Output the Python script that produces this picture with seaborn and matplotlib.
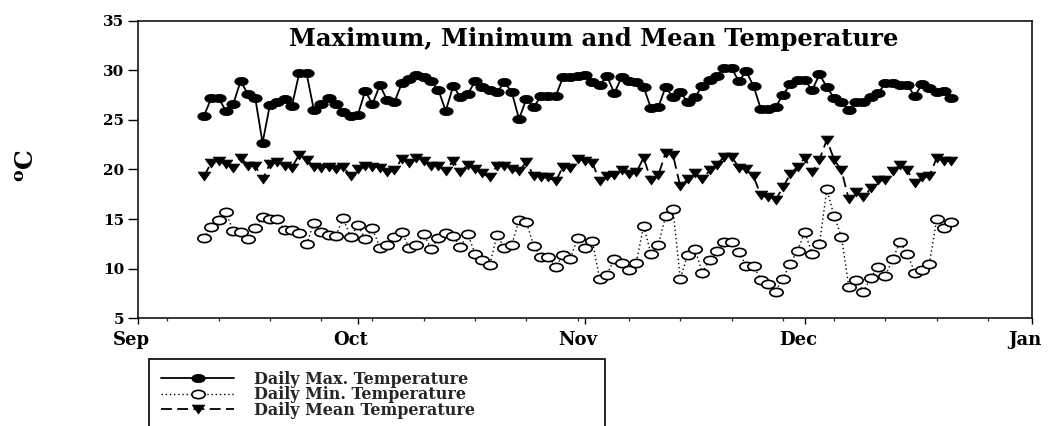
import numpy as np
import pandas as pd
import matplotlib
matplotlib.use("Agg")
import matplotlib.pyplot as plt
import matplotlib.dates as mdates
from matplotlib.path import Path
from matplotlib.ticker import FixedLocator
from matplotlib.transforms import ScaledTranslation, Affine2D
import seaborn as sns

# ---------------- data ----------------
start_date = "2003-09-10"
month_labels = ["Sep", "Oct", "Nov", "Dec", "Jan"]
y_ticks = [5, 10, 15, 20, 25, 30, 35]

t_max = [25.4, 27.2, 27.2, 25.9, 26.6, 28.9, 27.6, 27.2, 22.7, 26.5,
         26.8, 27.1, 26.4, 29.7, 29.7, 26.0, 26.6, 27.2, 26.6, 25.8,
         25.4, 25.5, 27.9, 26.6, 28.5, 27.0, 26.8, 28.7, 29.1, 29.5,
         29.3, 28.9, 28.0, 25.9, 28.4, 27.3, 27.6, 28.9, 28.3, 28.0,
         27.8, 28.8, 27.8, 25.1, 27.1, 26.3, 27.4, 27.4, 27.4, 29.3,
         29.3, 29.4, 29.5, 28.8, 28.5, 29.4, 27.7, 29.3, 28.9, 28.8,
         28.3, 26.2, 26.3, 28.3, 27.3, 27.8, 26.8, 27.3, 28.4, 29.0,
         29.4, 30.2, 30.2, 28.9, 29.9, 28.4, 26.1, 26.1, 26.3, 27.5,
         28.6, 29.0, 29.0, 28.0, 29.6, 28.3, 27.2, 26.8, 26.0, 26.8,
         26.8, 27.3, 27.7, 28.7, 28.7, 28.5, 28.5, 27.4, 28.6, 28.2,
         27.8, 27.9, 27.2]

t_min = [13.1, 14.2, 14.9, 15.7, 13.8, 13.7, 13.0, 14.1, 15.2, 15.0,
         15.0, 13.9, 13.9, 13.6, 12.5, 14.6, 13.7, 13.4, 13.3, 15.1,
         13.2, 14.4, 13.0, 14.1, 12.1, 12.4, 13.2, 13.7, 12.1, 12.4,
         13.5, 12.0, 13.1, 13.6, 13.3, 12.2, 13.5, 11.5, 10.9, 10.4,
         13.4, 12.1, 12.4, 14.9, 14.7, 12.3, 11.2, 11.2, 10.2, 11.4,
         11.0, 13.1, 12.1, 12.8, 9.0, 9.4, 11.0, 10.6, 9.9, 10.6,
         14.3, 11.5, 12.4, 15.3, 16.0, 9.0, 11.4, 12.0, 9.6, 10.9,
         11.8, 12.7, 12.7, 11.7, 10.3, 10.3, 8.9, 8.5, 7.7, 9.0,
         10.5, 11.8, 13.7, 11.5, 12.5, 18.0, 15.3, 13.2, 8.2, 8.9,
         7.7, 9.1, 10.2, 9.3, 11.0, 12.7, 11.5, 9.6, 9.9, 10.5,
         15.0, 14.1, 14.7]

t_mean = [19.3, 20.7, 20.9, 20.6, 20.2, 21.2, 20.4, 20.4, 19.0, 20.6,
          20.8, 20.4, 20.2, 21.5, 21.0, 20.3, 20.2, 20.3, 20.1, 20.3,
          19.3, 20.0, 20.4, 20.3, 20.2, 19.7, 19.9, 21.1, 20.7, 21.2,
          20.9, 20.4, 20.4, 19.8, 20.9, 19.7, 20.5, 20.1, 19.6, 19.2,
          20.4, 20.4, 20.0, 19.8, 20.8, 19.3, 19.2, 19.2, 18.8, 20.3,
          20.2, 21.1, 20.9, 20.7, 18.8, 19.3, 19.4, 19.9, 19.5, 19.7,
          21.2, 18.9, 19.4, 21.7, 21.5, 18.3, 19.0, 19.6, 19.0, 19.9,
          20.5, 21.3, 21.3, 20.2, 20.0, 19.3, 17.4, 17.2, 16.9, 18.2,
          19.5, 20.3, 21.2, 19.7, 21.0, 23.0, 21.0, 19.9, 17.0, 17.7,
          17.2, 18.1, 18.9, 18.9, 19.8, 20.5, 19.9, 18.6, 19.2, 19.3,
          21.2, 20.9, 20.9]

series_labels = ["Daily Max. Temperature", "Daily Min. Temperature",
                 "Daily Mean Temperature"]
title_text = "Maximum, Minimum and Mean Temperature"

dates = pd.date_range(start_date, periods=len(t_max), freq="D")

# ---------------- style ----------------
sns.set_style("ticks")
plt.rcParams["font.family"] = ["DejaVu Serif"]
plt.rcParams["font.weight"] = "bold"
plt.rcParams["mathtext.fontset"] = "dejavuserif"

# elliptical and wide triangle markers (image looks horizontally stretched)
ellipse = Path.unit_circle().transformed(Affine2D().scale(1.0, 0.62))
tri_down = Path([(-6, 4.2), (6, 4.2), (0, -4.2), (-6, 4.2)],
                [Path.MOVETO, Path.LINETO, Path.LINETO, Path.CLOSEPOLY])

W, H = 1051, 426
fig = plt.figure(figsize=(W / 100, H / 100), dpi=100)
fig.patch.set_facecolor("white")
left, right, top, bottom = 138, 1032, 20.7, 318.3
ax = fig.add_axes([left / W, 1 - bottom / H, (right - left) / W, (bottom - top) / H])

sns.lineplot(x=dates, y=t_max, ax=ax, color="black", lw=1.3, linestyle="-",
             marker=ellipse, markersize=9.6, markerfacecolor="black",
             markeredgecolor="black", markeredgewidth=0.6, label=series_labels[0])
sns.lineplot(x=dates, y=t_min, ax=ax, color="black", lw=1.0, linestyle=(0, (1, 2)),
             marker=ellipse, markersize=9.6, markerfacecolor="white",
             markeredgecolor="black", markeredgewidth=1.2, label=series_labels[1])
sns.lineplot(x=dates, y=t_mean, ax=ax, color="black", lw=1.3, linestyle=(0, (6, 3)),
             marker=tri_down, markersize=9.0, markerfacecolor="black",
             markeredgecolor="black", markeredgewidth=0.6, label=series_labels[2])

# ---------------- axes ----------------
ax.set_xlim(pd.Timestamp("2003-09-01"), pd.Timestamp("2004-01-01"))
ax.set_ylim(5, 35)
ax.set_yticks(y_ticks)
ax.set_yticklabels([str(v) for v in y_ticks])
month_starts = pd.to_datetime(["2003-09-01", "2003-10-01", "2003-11-01",
                               "2003-12-01", "2004-01-01"])
ax.set_xticks(month_starts)
ax.set_xticklabels(month_labels)
weekly = pd.date_range("2003-09-05", "2003-12-31", freq="7D")
ax.xaxis.set_minor_locator(FixedLocator(mdates.date2num(weekly)))
ax.set_xlabel("")
ax.set_ylabel("")

for s in ax.spines.values():
    s.set_visible(True)
    s.set_linewidth(1.1)
    s.set_color("black")

ax.tick_params(axis="y", which="major", direction="out", length=7, width=1.0,
               labelsize=11, pad=3, colors="black")
ax.tick_params(axis="x", which="major", direction="out", length=4.5, width=1.0,
               labelsize=13, pad=5, colors="black")
ax.tick_params(axis="x", which="minor", direction="out", length=2.5, width=0.9)
for lab in ax.get_xticklabels() + ax.get_yticklabels():
    lab.set_fontweight("bold")
for lab in ax.get_xticklabels():
    lab.set_transform(lab.get_transform() + ScaledTranslation(-7 / 100, 0, fig.dpi_scale_trans))

ax.grid(False)

ax.text((594 - left) / (right - left), (bottom - 39) / (bottom - top), title_text,
        transform=ax.transAxes, ha="center", va="center", fontsize=17.5,
        fontweight="bold", color="black")

fig.text(27 / W, 1 - 165 / H, r"$^{\mathbf{o}}$C", rotation=90, fontsize=18,
         fontweight="bold", ha="center", va="center", color="black")

# ---------------- legend ----------------
handles, labels = ax.get_legend_handles_labels()
lx0, ltop, lw_ = 149 / W, 1 - 359 / H, (605 - 149) / W
lh = 80 / H
leg = ax.legend(handles, labels, loc="upper left",
                bbox_to_anchor=(lx0, ltop - lh, lw_, lh), bbox_transform=fig.transFigure,
                mode="expand", borderaxespad=0, fontsize=11.5, labelspacing=-0.1,
                handlelength=4.6, handletextpad=1.2, borderpad=0.75,
                frameon=True, fancybox=False, framealpha=1, numpoints=1)
leg.get_frame().set_edgecolor("black")
leg.get_frame().set_linewidth(1.2)
for t in leg.get_texts():
    t.set_fontweight("bold")

fig.savefig("out.png", dpi=100, facecolor="white")
